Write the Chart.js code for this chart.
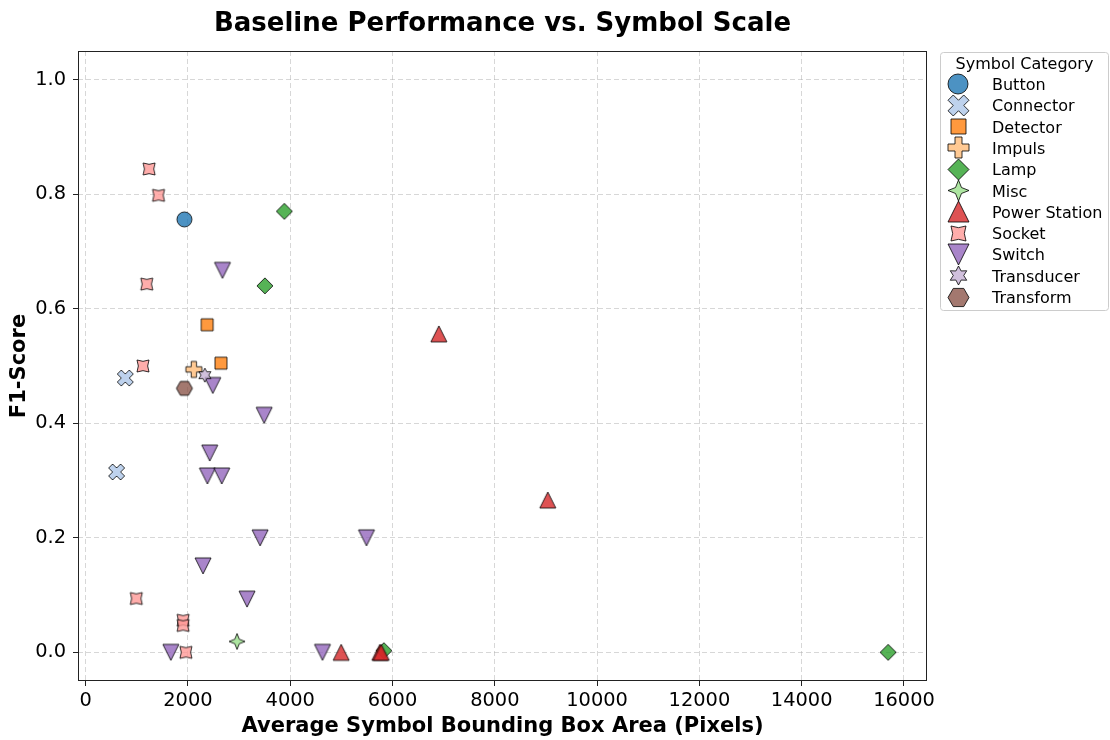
<!DOCTYPE html>
<html>
<head>
<meta charset="utf-8">
<title>Baseline Performance vs. Symbol Scale</title>
<script src="https://cdn.jsdelivr.net/npm/chart.js@4.4.1/dist/chart.umd.min.js"></script>
<style>
  html, body { margin: 0; padding: 0; background: #fff; }
  #wrap { width: 1110px; height: 740px; }
</style>
</head>
<body>
<div id="wrap"><canvas id="chart" width="1110" height="740"></canvas></div>
<script>
// values
const categories = ["Button", "Connector", "Detector", "Impuls", "Lamp", "Misc",
  "Power Station", "Socket", "Switch", "Transducer", "Transform"];

const buttonArea = [1930];
const buttonF1 = [0.756];
const connectorArea = [775, 605];
const connectorF1 = [0.479, 0.315];
const detectorArea = [2375, 2645];
const detectorF1 = [0.572, 0.505];
const impulsArea = [2115];
const impulsF1 = [0.494];
const lampArea = [3885, 3505, 5830, 15690];
const lampF1 = [0.770, 0.640, 0.003, 0.0];
const miscArea = [2960];
const miscF1 = [0.019];
const powerArea = [6905, 9035, 4995, 5750, 5780];
const powerF1 = [0.556, 0.266, 0.0, 0.0, 0.0];
const socketArea = [1240, 1425, 1195, 1120, 990, 1905, 1905, 1960];
const socketF1 = [0.844, 0.798, 0.643, 0.500, 0.094, 0.056, 0.047, 0.0];
const switchArea = [2675, 2485, 3490, 2425, 2380, 2660, 3410, 5490, 2295, 3155, 1665, 4630];
const switchF1 = [0.667, 0.466, 0.414, 0.348, 0.308, 0.308, 0.200, 0.200, 0.151, 0.093, 0.0, 0.0];
const transducerArea = [2330];
const transducerF1 = [0.484];
const transformArea = [1930];
const transformF1 = [0.461];

const xTicks = [0, 2000, 4000, 6000, 8000, 10000, 12000, 14000, 16000];
const yTicks = [0.0, 0.2, 0.4, 0.6, 0.8, 1.0];

const areas = [buttonArea, connectorArea, detectorArea, impulsArea, lampArea, miscArea,
  powerArea, socketArea, switchArea, transducerArea, transformArea];
const scores = [buttonF1, connectorF1, detectorF1, impulsF1, lampF1, miscF1,
  powerF1, socketF1, switchF1, transducerF1, transformF1];

const colors = ["#1f77b4", "#aec7e8", "#ff7f0e", "#ffbb78", "#2ca02c", "#98df8a",
  "#d62728", "#ff9896", "#9467bd", "#c5b0d5", "#8c564b"];
const shapes = ["circle", "x", "square", "plus", "diamond", "star4",
  "triUp", "socket", "triDown", "star6", "hexagon"];
const plotSizes = [15, 16, 12, 16, 16, 16, 16, 12, 16, 14, 16];
const legendSizes = [20, 21, 15, 21, 21, 21, 21, 15, 21, 19, 21];

const FONT = "'DejaVu Sans', sans-serif";

const hexToRgba = (hex, a) => {
  const n = parseInt(hex.slice(1), 16);
  return `rgba(${(n >> 16) & 255},${(n >> 8) & 255},${n & 255},${a})`;
};

const starPoints = (n, r, inner, rotDeg) => {
  const pts = [];
  for (let k = 0; k < n * 2; k++) {
    const rad = k % 2 === 0 ? r : r * inner;
    const a = (-90 + rotDeg + k * 180 / n) * Math.PI / 180;
    pts.push([rad * Math.cos(a), rad * Math.sin(a)]);
  }
  return pts;
};

const plusPoints = (r, rotDeg) => {
  const base = [[-1, -3], [1, -3], [1, -1], [3, -1], [3, 1], [1, 1], [1, 3], [-1, 3], [-1, 1], [-3, 1], [-3, -1], [-1, -1]];
  const a = rotDeg * Math.PI / 180;
  return base.map(([x, y]) => {
    const px = x * r / 3, py = y * r / 3;
    return [px * Math.cos(a) - py * Math.sin(a), px * Math.sin(a) + py * Math.cos(a)];
  });
};

// marker image for pointStyle
const makeMarker = (shape, color, size) => {
  const c = document.createElement("canvas");
  const dim = Math.ceil(size + 4);
  c.width = dim;
  c.height = dim;
  const ctx = c.getContext("2d");
  ctx.translate(dim / 2, dim / 2);
  const r = size / 2;
  let pts = null;
  ctx.beginPath();
  if (shape === "circle") {
    ctx.arc(0, 0, r, 0, Math.PI * 2);
  } else if (shape === "square") {
    ctx.rect(-r, -r, 2 * r, 2 * r);
  } else if (shape === "diamond") {
    pts = [[0, -r], [r, 0], [0, r], [-r, 0]];
  } else if (shape === "triUp") {
    pts = [[0, -r], [r, r], [-r, r]];
  } else if (shape === "triDown") {
    pts = [[0, r], [r, -r], [-r, -r]];
  } else if (shape === "plus") {
    pts = plusPoints(r, 0);
  } else if (shape === "x") {
    pts = plusPoints(r / 0.943, 45);
  } else if (shape === "star4") {
    pts = starPoints(4, r, 0.4, 0);
  } else if (shape === "socket") {
    pts = starPoints(4, r / 0.707, 0.55, 45);
  } else if (shape === "star6") {
    pts = starPoints(6, r, 0.55, 0);
  } else if (shape === "hexagon") {
    pts = [];
    for (let k = 0; k < 6; k++) {
      const a = k * Math.PI / 3;
      pts.push([r * Math.cos(a), r * Math.sin(a)]);
    }
  }
  if (pts) {
    pts.forEach(([x, y], k) => k === 0 ? ctx.moveTo(x, y) : ctx.lineTo(x, y));
    ctx.closePath();
  }
  ctx.fillStyle = hexToRgba(color, 0.8);
  ctx.fill();
  ctx.lineWidth = 1;
  ctx.lineJoin = "miter";
  ctx.strokeStyle = "rgba(0,0,0,0.8)";
  ctx.stroke();
  return c;
};

const legendMarkers = categories.map((_, i) => makeMarker(shapes[i], colors[i], legendSizes[i]));

const datasets = categories.map((name, i) => ({
  label: name,
  data: areas[i].map((x, j) => ({ x: x, y: scores[i][j] })),
  pointStyle: makeMarker(shapes[i], colors[i], plotSizes[i]),
  pointRadius: 8,
  order: categories.length - i
}));

const decorPlugin = {
  id: "decor",
  afterDatasetsDraw(chart) {
    const { ctx, chartArea: ca } = chart;
    ctx.save();
    ctx.strokeStyle = "#222";
    ctx.lineWidth = 1;
    ctx.strokeRect(ca.left + 0.5, ca.top + 0.5, ca.right - ca.left - 1, ca.bottom - ca.top - 1);
    ctx.restore();
  },
  afterDraw(chart) {
    const { ctx, chartArea: ca } = chart;
    ctx.save();
    // title
    ctx.fillStyle = "#000";
    ctx.font = "bold 26px " + FONT;
    ctx.textAlign = "center";
    ctx.textBaseline = "alphabetic";
    ctx.fillText("Baseline Performance vs. Symbol Scale", (ca.left + ca.right) / 2, 31);

    // legend box
    const bx = 940.5, by = 52.5, bw = 168, bh = 258, rad = 3;
    ctx.beginPath();
    ctx.moveTo(bx + rad, by);
    ctx.arcTo(bx + bw, by, bx + bw, by + bh, rad);
    ctx.arcTo(bx + bw, by + bh, bx, by + bh, rad);
    ctx.arcTo(bx, by + bh, bx, by, rad);
    ctx.arcTo(bx, by, bx + bw, by, rad);
    ctx.closePath();
    ctx.fillStyle = "rgba(255,255,255,0.8)";
    ctx.fill();
    ctx.strokeStyle = "#cccccc";
    ctx.stroke();

    ctx.fillStyle = "#000";
    ctx.font = "16px " + FONT;
    ctx.textAlign = "center";
    ctx.fillText("Symbol Category", bx + bw / 2, 69);

    ctx.textAlign = "left";
    categories.forEach((name, i) => {
      const cy = 84 + i * 21.3;
      const img = legendMarkers[i];
      ctx.drawImage(img, Math.round(958 - img.width / 2), Math.round(cy - img.height / 2));
      ctx.fillText(name, 992, cy + 6);
    });
    ctx.restore();
  }
};

const gridStyle = {
  color: "rgba(176,176,176,0.5)",
  lineWidth: 1,
  tickColor: "#222",
  tickLength: 5,
  tickWidth: 1,
  tickBorderDash: []
};
// in Chart.js v4 the grid line dash comes from the border options
const borderStyle = { display: false, dash: [5, 3] };

new Chart(document.getElementById("chart"), {
  type: "scatter",
  data: { datasets: datasets },
  options: {
    responsive: false,
    animation: false,
    events: [],
    layout: { padding: { left: 0, right: 183, top: 51, bottom: 0 } },
    plugins: {
      legend: { display: false },
      title: { display: false },
      tooltip: { enabled: false }
    },
    scales: {
      x: {
        type: "linear",
        min: -150,
        max: 16450,
        afterFit: (s) => { s.height = 59; },
        afterBuildTicks: (s) => { s.ticks = xTicks.map(v => ({ value: v })); },
        ticks: {
          color: "#000",
          font: { family: FONT, size: 19.4 },
          padding: 3,
          maxRotation: 0,
          autoSkip: false,
          callback: (v) => String(v)
        },
        grid: gridStyle,
        border: borderStyle,
        title: {
          display: true,
          text: "Average Symbol Bounding Box Area (Pixels)",
          color: "#000",
          font: { family: FONT, size: 21, weight: "bold" },
          padding: { top: 0, bottom: 1 }
        }
      },
      y: {
        type: "linear",
        min: -0.05,
        max: 1.05,
        afterFit: (s) => { s.width = 78; },
        afterBuildTicks: (s) => { s.ticks = yTicks.map(v => ({ value: v })); },
        ticks: {
          color: "#000",
          font: { family: FONT, size: 19.4 },
          padding: 7,
          autoSkip: false,
          callback: (v) => v.toFixed(1)
        },
        grid: gridStyle,
        border: borderStyle,
        title: {
          display: true,
          text: "F1-Score",
          color: "#000",
          font: { family: FONT, size: 21, weight: "bold" },
          padding: { top: 7, bottom: 0 }
        }
      }
    }
  },
  plugins: [decorPlugin]
});
</script>
</body>
</html>
